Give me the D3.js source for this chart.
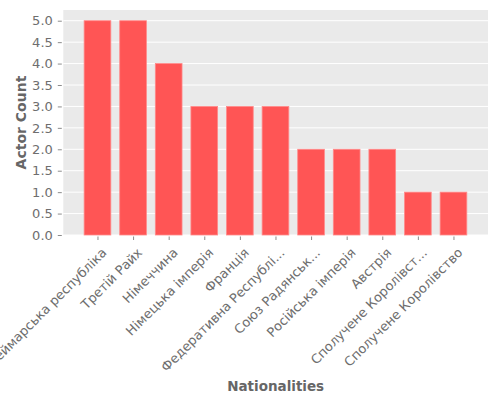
<!DOCTYPE html>
<html>
<head>
<meta charset="utf-8">
<script src="https://cdn.jsdelivr.net/npm/d3@7"></script>
<style>
  body { margin: 0; background: #fff; }
  svg { display: block; font-family: "DejaVu Sans", sans-serif; }
</style>
</head>
<body>
<svg id="chart" width="500" height="400"></svg>
<script>
const categories = [
  "Веймарська республіка",
  "Третій Райх",
  "Німеччина",
  "Німецька імперія",
  "Франція",
  "Федеративна Республі...",
  "Союз Радянськ...",
  "Російська імперія",
  "Австрія",
  "Сполучене Королівст...",
  "Сполучене Королівство"
];
const counts = [5, 5, 4, 3, 3, 3, 2, 2, 2, 1, 1];
const yTicks = [0, 0.5, 1, 1.5, 2, 2.5, 3, 3.5, 4, 4.5, 5];
const xLabel = "Nationalities";
const yLabel = "Actor Count";

const svg = d3.select("#chart");
const pLeft = 63.3, pRight = 488, pTop = 10, pBottom = 235;
const textColor = "#666666";
const tickColor = "#6e6e6e";

const x = d3.scaleLinear().domain([-0.96, categories.length - 1 + 0.97]).range([pLeft, pRight]);
const y = d3.scaleLinear().domain([0, 5.25]).range([pBottom, pTop]);
const barW = 0.75;

svg.append("rect")
  .attr("x", pLeft).attr("y", pTop)
  .attr("width", pRight - pLeft).attr("height", pBottom - pTop)
  .attr("fill", "#EAEAEA");

svg.append("g").selectAll("line").data(yTicks).join("line")
  .attr("x1", pLeft).attr("x2", pRight)
  .attr("y1", d => y(d)).attr("y2", d => y(d))
  .attr("stroke", "#ffffff").attr("stroke-width", 1);

svg.append("g").selectAll("rect").data(counts).join("rect")
  .attr("x", (d, i) => x(i - barW / 2))
  .attr("width", (d, i) => x(i + barW / 2) - x(i - barW / 2))
  .attr("y", d => y(d))
  .attr("height", d => y(0) - y(d))
  .attr("fill", "#FF5555")
  .attr("stroke", "#FF8A8A")
  .attr("stroke-width", 0.8);

// y axis
const yAxis = d3.axisLeft(y).tickValues(yTicks).tickFormat(d3.format(".1f")).tickSize(4).tickPadding(5);
const gy = svg.append("g").attr("transform", `translate(${pLeft - 1.5},0)`).call(yAxis);
gy.select(".domain").remove();
gy.selectAll(".tick line").attr("stroke", tickColor).attr("stroke-width", 0.8);
gy.selectAll(".tick text").attr("fill", tickColor).attr("font-size", 13).attr("font-family", "DejaVu Sans");

// x axis
const xAxis = d3.axisBottom(x).tickValues(d3.range(categories.length)).tickFormat(i => categories[i]).tickSize(3.5).tickPadding(3);
const gx = svg.append("g").attr("transform", `translate(0,${pBottom + 1.5})`).call(xAxis);
gx.select(".domain").remove();
gx.selectAll(".tick line").attr("stroke", tickColor).attr("stroke-width", 0.8);
gx.selectAll(".tick text")
  .attr("fill", tickColor)
  .attr("font-size", 13)
  .attr("font-family", "DejaVu Sans")
  .attr("text-anchor", "end")
  .attr("y", 0).attr("dy", 13.4).attr("x", 0)
  .attr("transform", "translate(0,7.5) rotate(-45)");

svg.append("text")
  .attr("x", (pLeft + pRight) / 2).attr("y", 391)
  .attr("text-anchor", "middle")
  .attr("font-size", 13.5).attr("font-weight", "bold")
  .attr("fill", textColor)
  .text(xLabel);

svg.append("text")
  .attr("transform", `translate(25.5,${(pTop + pBottom) / 2}) rotate(-90)`)
  .attr("text-anchor", "middle")
  .attr("font-size", 14).attr("font-weight", "bold")
  .attr("fill", textColor)
  .text(yLabel);
</script>
</body>
</html>
